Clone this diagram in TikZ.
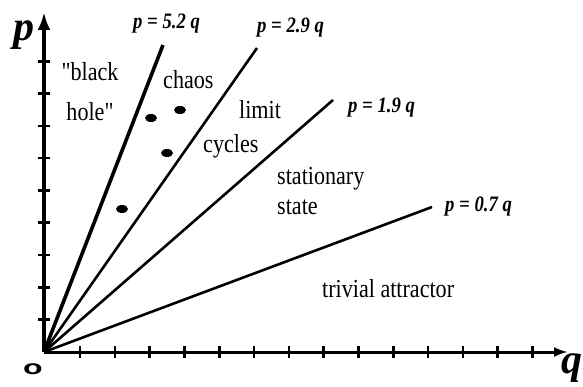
\documentclass[tikz,border=0pt]{standalone}
\usepackage{fontspec}
\setmainfont{Liberation Serif}
\newfontfamily\condfont[FakeStretch=0.85]{Liberation Serif}
\newfontfamily\osans{Liberation Sans}
\usetikzlibrary{arrows.meta}
\begin{document}
\begin{tikzpicture}[x=1pt,y=-1pt,
  region/.style={font=\condfont\fontsize{26}{30}\selectfont, inner sep=0pt, anchor=base west},
  eqlabel/.style={font=\condfont\bfseries\itshape\fontsize{22}{24}\selectfont, inner sep=0pt, anchor=base west},
  axislabel/.style={font=\bfseries\itshape\fontsize{42}{42}\selectfont, inner sep=0pt, anchor=base west},
  vaxis/.style={line width=4.5pt, -{Latex[length=18pt,width=13pt]}},
  haxis/.style={line width=3pt, -{Latex[length=14pt,width=10pt]}},
  ray/.style={line width=2.6pt},
  thickray/.style={line width=3.6pt},
  tickmark/.style={line width=2.6pt},
  blob/.style={fill=black}
]
\useasboundingbox (0,0) rectangle (583,387);

% axes
\coordinate (O) at (44,352);
\coordinate (ytip) at (44,12);
\coordinate (xtip) at (568,352);
\draw[vaxis] (O) -- (ytip);
\draw[haxis] (O) -- (xtip);

% ticks
\foreach \k in {1,...,9}
  \draw[tickmark] (38,{352-32.3*\k}) -- (50,{352-32.3*\k});
\foreach \k in {0,...,13}
  \draw[tickmark] ({80+34.8*\k},346) -- ({80+34.8*\k},358);

% rays
\coordinate (r52) at (163,45);
\coordinate (r29) at (257,48);
\coordinate (r19) at (333,100);
\coordinate (r07) at (432,207);
\draw[thickray] (O) -- (r52);
\draw[ray] (O) -- (r29);
\draw[ray] (O) -- (r19);
\draw[ray] (O) -- (r07);

% equation labels
\node[eqlabel] (l52) at (133,29) {p = 5.2 q};
\node[eqlabel] (l29) at (257,33) {p = 2.9 q};
\node[eqlabel] (l19) at (348,113) {p = 1.9 q};
\node[eqlabel] (l07) at (445,212) {p = 0.7 q};

% region labels
\node[region, anchor=north, align=center, font=\condfont\fontsize{26}{40}\selectfont] (bh) at (90,62) {"black\\hole"};
\node[region] (chaos) at (163,89) {chaos};
\node[region] (limit) at (239,119) {limit};
\node[region] (cycles) at (203,153) {cycles};
\node[region, anchor=north west, align=left] (stat) at (277,167) {stationary\\state};
\node[region] (triv) at (322,297) {trivial attractor};

% blobs
\fill[blob] (151,118) ellipse (6pt and 4pt);
\fill[blob] (180,110) ellipse (6pt and 4pt);
\fill[blob] (167,153) ellipse (6pt and 4pt);
\fill[blob] (122,209) ellipse (6pt and 4pt);

% axis labels
\node[axislabel] (plab) at (13,41) {p};
\node[axislabel] (qlab) at (561,373) {q};
\node[inner sep=0pt, font=\osans\bfseries\fontsize{20}{20}\selectfont] (olab) at (33,369) {\scalebox{1.6}[1]{o}};
\end{tikzpicture}
\end{document}
